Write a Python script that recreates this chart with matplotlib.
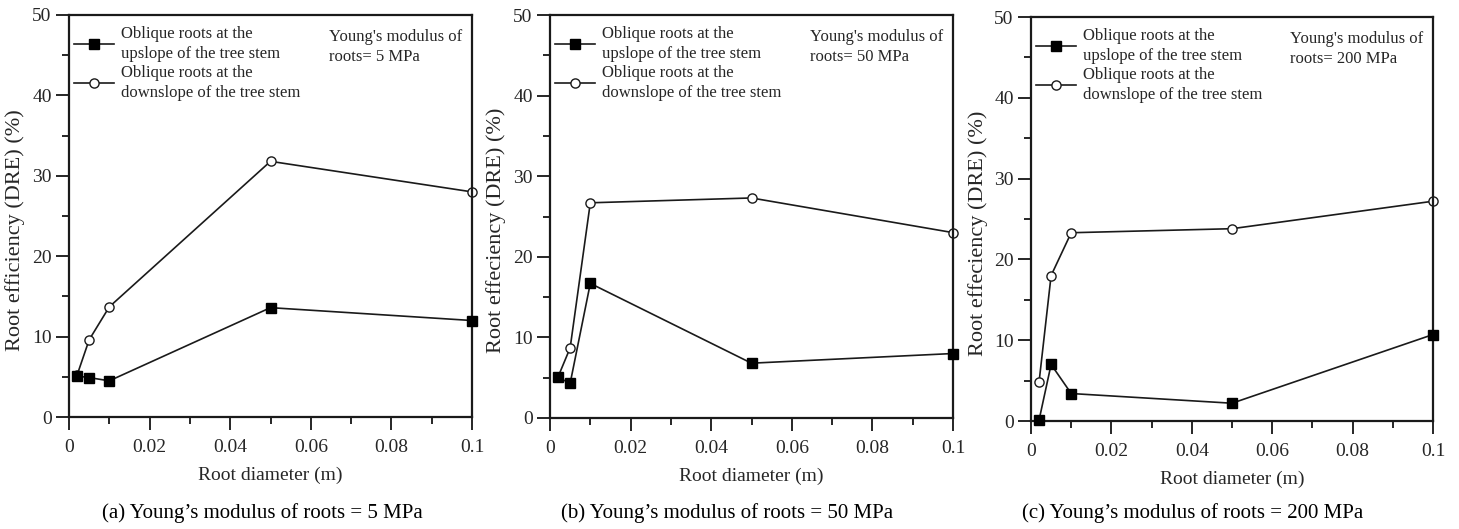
import matplotlib
matplotlib.use("Agg")
import matplotlib.pyplot as plt
from matplotlib.ticker import MultipleLocator, FuncFormatter

plt.rcParams['font.family'] = ['Liberation Serif', 'DejaVu Serif']

diameters = [0.002, 0.005, 0.01, 0.05, 0.1]

up_5 = [5.1, 4.9, 4.5, 13.6, 12.0]
down_5 = [5.2, 9.6, 13.7, 31.8, 28.0]

up_50 = [5.05, 4.3, 16.7, 6.8, 8.0]
down_50 = [5.1, 8.7, 26.7, 27.3, 23.0]

up_200 = [0.1, 7.0, 3.4, 2.2, 10.7]
down_200 = [4.8, 18.0, 23.3, 23.8, 27.2]

legend_labels = ["Oblique roots at the\nupslope of the tree stem",
                 "Oblique roots at the\ndownslope of the tree stem"]
modulus_notes = ["Young's modulus of\nroots= 5 MPa",
                 "Young's modulus of\nroots= 50 MPa",
                 "Young's modulus of\nroots= 200 MPa"]
ylabels = ["Root efficiency (DRE) (%)",
           "Root effeciency (DRE) (%)",
           "Root effeciency (DRE) (%)"]
captions = ["(a) Young\u2019s modulus of roots = 5 MPa",
            "(b) Young\u2019s modulus of roots = 50 MPa",
            "(c) Young\u2019s modulus of roots = 200 MPa"]
xlabel = "Root diameter (m)"

ups = [up_5, up_50, up_200]
downs = [down_5, down_50, down_200]

W, H = 1459, 529
fig = plt.figure(figsize=(W / 100, H / 100), dpi=100)

# pixel boxes (left, right, top, bottom)
boxes = [(69, 472, 15, 417), (550, 953, 15, 418), (1031, 1433, 17, 421)]
cap_x = [262, 727, 1193]

txt_col = '#262626'
line_col = '#1a1a1a'

for i, (l, r, t, b) in enumerate(boxes):
    ax = fig.add_axes([l / W, 1 - b / H, (r - l) / W, (b - t) / H])
    ax.plot(diameters, ups[i], '-', color=line_col, lw=1.2, marker='s',
            markersize=6.8, markerfacecolor='black', markeredgecolor='black',
            clip_on=False, zorder=3, label=legend_labels[0])
    ax.plot(diameters, downs[i], '-', color=line_col, lw=1.2, marker='o',
            markersize=6.6, markerfacecolor='white', markeredgecolor=line_col,
            markeredgewidth=1.0, clip_on=False, zorder=2, label=legend_labels[1])
    ax.set_xlim(0, 0.1)
    ax.set_ylim(0, 50)
    ax.xaxis.set_major_locator(MultipleLocator(0.02))
    ax.xaxis.set_minor_locator(MultipleLocator(0.01))
    ax.yaxis.set_major_locator(MultipleLocator(10))
    ax.yaxis.set_minor_locator(MultipleLocator(5))
    ax.xaxis.set_major_formatter(FuncFormatter(lambda v, p: '%g' % round(v, 4)))
    ax.tick_params(which='major', direction='out', length=9.5, width=1.4,
                   labelsize=14, colors=txt_col, labelcolor=txt_col)
    ax.tick_params(which='minor', direction='out', length=5, width=1.4, colors=txt_col)
    ax.tick_params(axis='x', which='major', pad=6)
    ax.tick_params(axis='y', which='major', pad=3)
    for s in ax.spines.values():
        s.set_linewidth(1.6)
        s.set_color(line_col)
    ax.set_xlabel(xlabel, fontsize=14, color=txt_col, labelpad=8)
    ax.set_ylabel(ylabels[i], fontsize=16, color=txt_col)
    ax.yaxis.set_label_coords(-0.108, 0.465)
    leg = ax.legend(loc='upper left', bbox_to_anchor=(0.0, 0.985), frameon=False,
                    fontsize=12, handlelength=2.4, handletextpad=0.4,
                    borderpad=0.0, borderaxespad=0.3, labelspacing=0.2)
    for tx in leg.get_texts():
        tx.set_color(txt_col)
        tx.set_linespacing(1.3)
    ax.text(0.645, 0.965, modulus_notes[i], transform=ax.transAxes,
            ha='left', va='top', fontsize=12, color=txt_col, linespacing=1.3)
    fig.text(cap_x[i] / W, 1 - 513 / H, captions[i], ha='center', va='center',
             fontsize=15, color='black')

fig.savefig('out.png', dpi=100)
